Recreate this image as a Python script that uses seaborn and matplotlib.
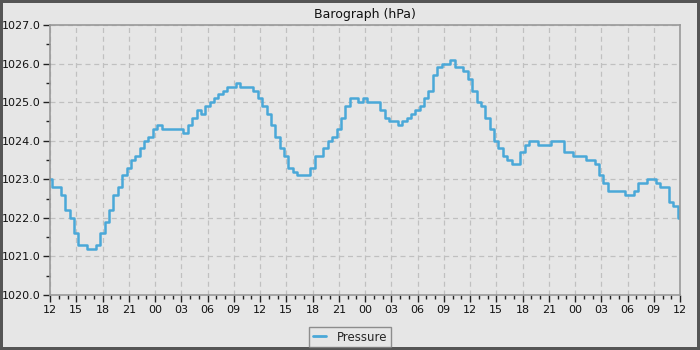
import matplotlib
matplotlib.use("Agg")
import matplotlib.pyplot as plt
import seaborn as sns
import pandas as pd
import numpy as np
from matplotlib.ticker import MultipleLocator

# Hours since start (12:00), half-hourly readings
hours = [i * 0.5 for i in range(145)]
pressure = [
    1023.0, 1022.8, 1022.8, 1022.6, 1022.2, 1022.0, 1021.6, 1021.3, 1021.3, 1021.2,
    1021.2, 1021.3, 1021.6, 1021.9, 1022.2, 1022.6, 1022.8, 1023.1, 1023.3, 1023.5,
    1023.6, 1023.8, 1024.0, 1024.1, 1024.3, 1024.4, 1024.3, 1024.3, 1024.3, 1024.3,
    1024.3, 1024.2, 1024.4, 1024.6, 1024.8, 1024.7, 1024.9, 1025.0, 1025.1, 1025.2,
    1025.3, 1025.4, 1025.4, 1025.5, 1025.4, 1025.4, 1025.4, 1025.3, 1025.1, 1024.9,
    1024.7, 1024.4, 1024.1, 1023.8, 1023.6, 1023.3, 1023.2, 1023.1, 1023.1, 1023.1,
    1023.3, 1023.6, 1023.6, 1023.8, 1024.0, 1024.1, 1024.3, 1024.6, 1024.9, 1025.1,
    1025.1, 1025.0, 1025.1, 1025.0, 1025.0, 1025.0, 1024.8, 1024.6, 1024.5, 1024.5,
    1024.4, 1024.5, 1024.6, 1024.7, 1024.8, 1024.9, 1025.1, 1025.3, 1025.7, 1025.9,
    1026.0, 1026.0, 1026.1, 1025.9, 1025.9, 1025.8, 1025.6, 1025.3, 1025.0, 1024.9,
    1024.6, 1024.3, 1024.0, 1023.8, 1023.6, 1023.5, 1023.4, 1023.4, 1023.7, 1023.9,
    1024.0, 1024.0, 1023.9, 1023.9, 1023.9, 1024.0, 1024.0, 1024.0, 1023.7, 1023.7,
    1023.6, 1023.6, 1023.6, 1023.5, 1023.5, 1023.4, 1023.1, 1022.9, 1022.7, 1022.7,
    1022.7, 1022.7, 1022.6, 1022.6, 1022.7, 1022.9, 1022.9, 1023.0, 1023.0, 1022.9,
    1022.8, 1022.8, 1022.4, 1022.3, 1022.0,
]
tick_hours = list(range(0, 73, 3))
tick_labels = ["12", "15", "18", "21", "00", "03", "06", "09",
               "12", "15", "18", "21", "00", "03", "06", "09",
               "12", "15", "18", "21", "00", "03", "06", "09", "12"]
y_ticks = [1020.0, 1021.0, 1022.0, 1023.0, 1024.0, 1025.0, 1026.0, 1027.0]

df = pd.DataFrame({"hour": hours, "Pressure": pressure})

sns.set_theme(style="white")
plt.rcParams["font.family"] = ["DejaVu Sans"]

bg = "#e6e6e6"
fig = plt.figure(figsize=(7, 3.5), dpi=100, facecolor=bg,
                 edgecolor="#555555", linewidth=4)
ax = fig.add_axes([50 / 700, 1 - 295 / 350, 630 / 700, 270 / 350])
ax.set_facecolor(bg)

sns.lineplot(data=df, x="hour", y="Pressure", ax=ax, color="#4aa8d8",
             linewidth=1.8, drawstyle="steps-mid", label="Pressure")

ax.set_xlim(0, 72)
ax.set_ylim(1020, 1027)
ax.set_xticks(tick_hours)
ax.set_xticklabels(tick_labels)
ax.set_yticks(y_ticks)
ax.set_yticklabels([f"{v:.1f}" for v in y_ticks])
ax.xaxis.set_minor_locator(MultipleLocator(1))
ax.yaxis.set_minor_locator(MultipleLocator(0.5))
ax.tick_params(axis="both", which="major", direction="out", length=5,
               width=1, color="#222222", labelsize=8, labelcolor="#111111",
               bottom=True, left=True, pad=2)
ax.tick_params(axis="both", which="minor", direction="out", length=3,
               width=1, color="#222222", bottom=True, left=True)
ax.set_xlabel("")
ax.set_ylabel("")
ax.grid(True, which="major", color="#c0c0c0", linestyle=(0, (4, 3)), linewidth=0.9)
for s in ax.spines.values():
    s.set_visible(True)
    s.set_color("#999999")
    s.set_linewidth(1.2)

ax.set_title("Barograph (hPa)", fontsize=9, color="#111111", pad=5)

leg = ax.legend(loc="center", bbox_to_anchor=(0.5, 0.037),
                bbox_transform=fig.transFigure, frameon=True, fancybox=False,
                fontsize=8.5, handlelength=1.1, handletextpad=0.9,
                borderpad=0.3, borderaxespad=0)
leg.get_frame().set_facecolor(bg)
leg.get_frame().set_edgecolor("#777777")
leg.get_frame().set_linewidth(1.0)
for line in leg.get_lines():
    line.set_linewidth(2)

fig.savefig("out.png", dpi=100, facecolor=bg, edgecolor=fig.get_edgecolor())
